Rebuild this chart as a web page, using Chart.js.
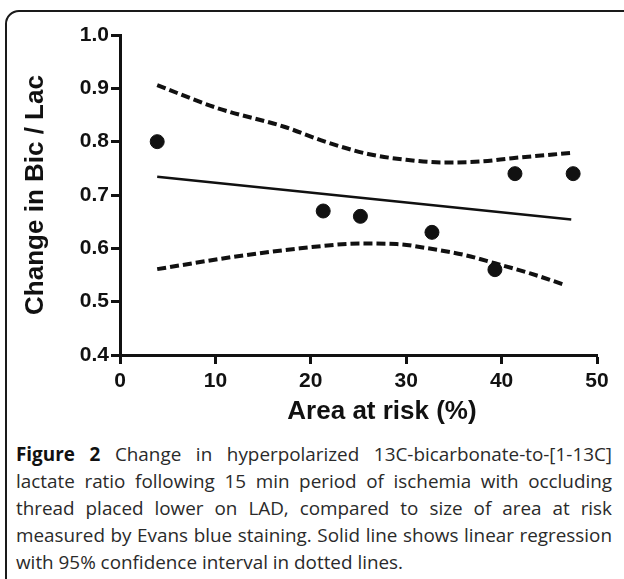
<!DOCTYPE html>
<html>
<head>
<meta charset="utf-8">
<script src="https://cdn.jsdelivr.net/npm/chart.js@4/dist/chart.umd.min.js"></script>
<style>
  html, body { margin: 0; padding: 0; background: #fff; overflow: hidden; width: 624px; height: 579px; }
  #frame {
    position: absolute; left: 5px; top: 10px; width: 700px; height: 700px;
    border: 2px solid #1a1a1a; border-radius: 14px; box-sizing: border-box;
  }
  #chart { position: absolute; left: 0; top: 0; }
  #xtitle {
    position: absolute; left: 232px; width: 300px; top: 395px; height: 30px; line-height: 30px;
    text-align: center; font-family: "Liberation Sans", Arial, sans-serif; font-weight: bold;
    font-size: 26px; color: #111;
  }
  #caption {
    position: absolute; left: 16px; top: 441px; width: 596px;
    font-family: "Open Sans", sans-serif; font-size: 17px; line-height: 27px; color: #2a2a2a;
  }
  #caption div { text-align: justify; text-align-last: justify; white-space: nowrap; }
  #caption div.last { text-align-last: left; }
  #caption b { font-weight: 700; color: #111; }
</style>
</head>
<body>
<div id="frame"></div>
<canvas id="chart" width="624" height="430"></canvas>
<div id="xtitle">Area at risk (%)</div>
<div id="caption">
  <div><b>Figure 2</b> Change in hyperpolarized 13C-bicarbonate-to-[1-13C]</div>
  <div>lactate ratio following 15 min period of ischemia with occluding</div>
  <div>thread placed lower on LAD, compared to size of area at risk</div>
  <div>measured by Evans blue staining. Solid line shows linear regression</div>
  <div class="last">with 95% confidence interval in dotted lines.</div>
</div>
<script>
// measured points
const areaX = [3.9, 21.3, 25.2, 32.7, 39.3, 41.4, 47.5];
const ratioY = [0.8, 0.67, 0.66, 0.63, 0.56, 0.74, 0.74];

// regression line ends
const fitX = [3.9, 47.3];
const fitY = [0.734, 0.654];

// 95% CI bands
const upperX = [3.9, 10.2, 17.2, 21.5, 26.0, 30.0, 34.0, 38.0, 41.1, 47.3];
const upperY = [0.906, 0.863, 0.828, 0.8, 0.777, 0.766, 0.761, 0.763, 0.769, 0.779];
const lowerX = [3.9, 11.9, 18.9, 25.3, 29.0, 32.3, 36.0, 39.3, 43.0, 46.7];
const lowerY = [0.561, 0.584, 0.6, 0.609, 0.608, 0.6, 0.588, 0.572, 0.553, 0.531];

const xTicks = [0, 10, 20, 30, 40, 50];
const yTicks = [0.4, 0.5, 0.6, 0.7, 0.8, 0.9, 1.0];

const pairs = (xs, ys) => xs.map((x, i) => ({ x: x, y: ys[i] }));

const ink = "#111";
const tickFont = { family: "Liberation Sans, Arial, sans-serif", size: 21, weight: "bold" };

// fit the caption so its longest justified line fills the box
(function () {
  const cap = document.getElementById("caption");
  const probe = document.createElement("span");
  probe.style.cssText = 'position:absolute;visibility:hidden;white-space:nowrap;font-family:"Open Sans";font-size:16px';
  document.body.appendChild(probe);
  let widest = 0;
  cap.querySelectorAll("div").forEach((d) => {
    if (d.classList.contains("last")) return;
    probe.innerHTML = d.innerHTML;
    widest = Math.max(widest, probe.getBoundingClientRect().width);
  });
  probe.remove();
  if (widest > 0) cap.style.fontSize = (16 * cap.clientWidth / widest * 0.99).toFixed(2) + "px";
})();

const bandStyle = {
  type: "line",
  borderColor: ink,
  borderWidth: 4,
  borderDash: [9, 4],
  cubicInterpolationMode: "monotone",
  pointRadius: 0,
  fill: false,
};

new Chart(document.getElementById("chart"), {
  type: "scatter",
  data: {
    datasets: [
      {
        label: "data",
        data: pairs(areaX, ratioY),
        backgroundColor: ink,
        borderColor: ink,
        pointRadius: 7,
      },
      {
        label: "fit",
        type: "line",
        data: pairs(fitX, fitY),
        borderColor: ink,
        borderWidth: 2.5,
        pointRadius: 0,
        fill: false,
      },
      Object.assign({ label: "upper", data: pairs(upperX, upperY) }, bandStyle),
      Object.assign({ label: "lower", data: pairs(lowerX, lowerY) }, bandStyle),
    ],
  },
  options: {
    responsive: false,
    animation: false,
    devicePixelRatio: 1,
    layout: { padding: { top: 35, right: 27, left: 0, bottom: 0 } },
    plugins: { legend: { display: false }, tooltip: { enabled: false } },
    scales: {
      x: {
        type: "linear",
        min: 0,
        max: 50,
        afterBuildTicks: (s) => { s.ticks = xTicks.map((v) => ({ value: v })); },
        afterFit: (s) => { s.height = 75; },
        border: { color: ink, width: 3 },
        grid: { drawOnChartArea: false, tickLength: 9, tickWidth: 3, tickColor: ink },
        ticks: { color: ink, font: tickFont, padding: 5 },
      },
      y: {
        type: "linear",
        min: 0.4,
        max: 1.0,
        afterBuildTicks: (s) => { s.ticks = yTicks.map((v) => ({ value: v })); },
        afterFit: (s) => { s.width = 120; },
        border: { color: ink, width: 3 },
        grid: { drawOnChartArea: false, tickLength: 9, tickWidth: 3, tickColor: ink },
        ticks: { color: ink, font: tickFont, padding: 2, callback: (v) => v.toFixed(1) },
        title: {
          display: true,
          text: "Change in Bic / Lac",
          color: ink,
          font: { family: "Liberation Sans, Arial, sans-serif", size: 26, weight: "bold" },
          padding: { top: 20, bottom: 0 },
        },
      },
    },
  },
});
</script>
</body>
</html>
